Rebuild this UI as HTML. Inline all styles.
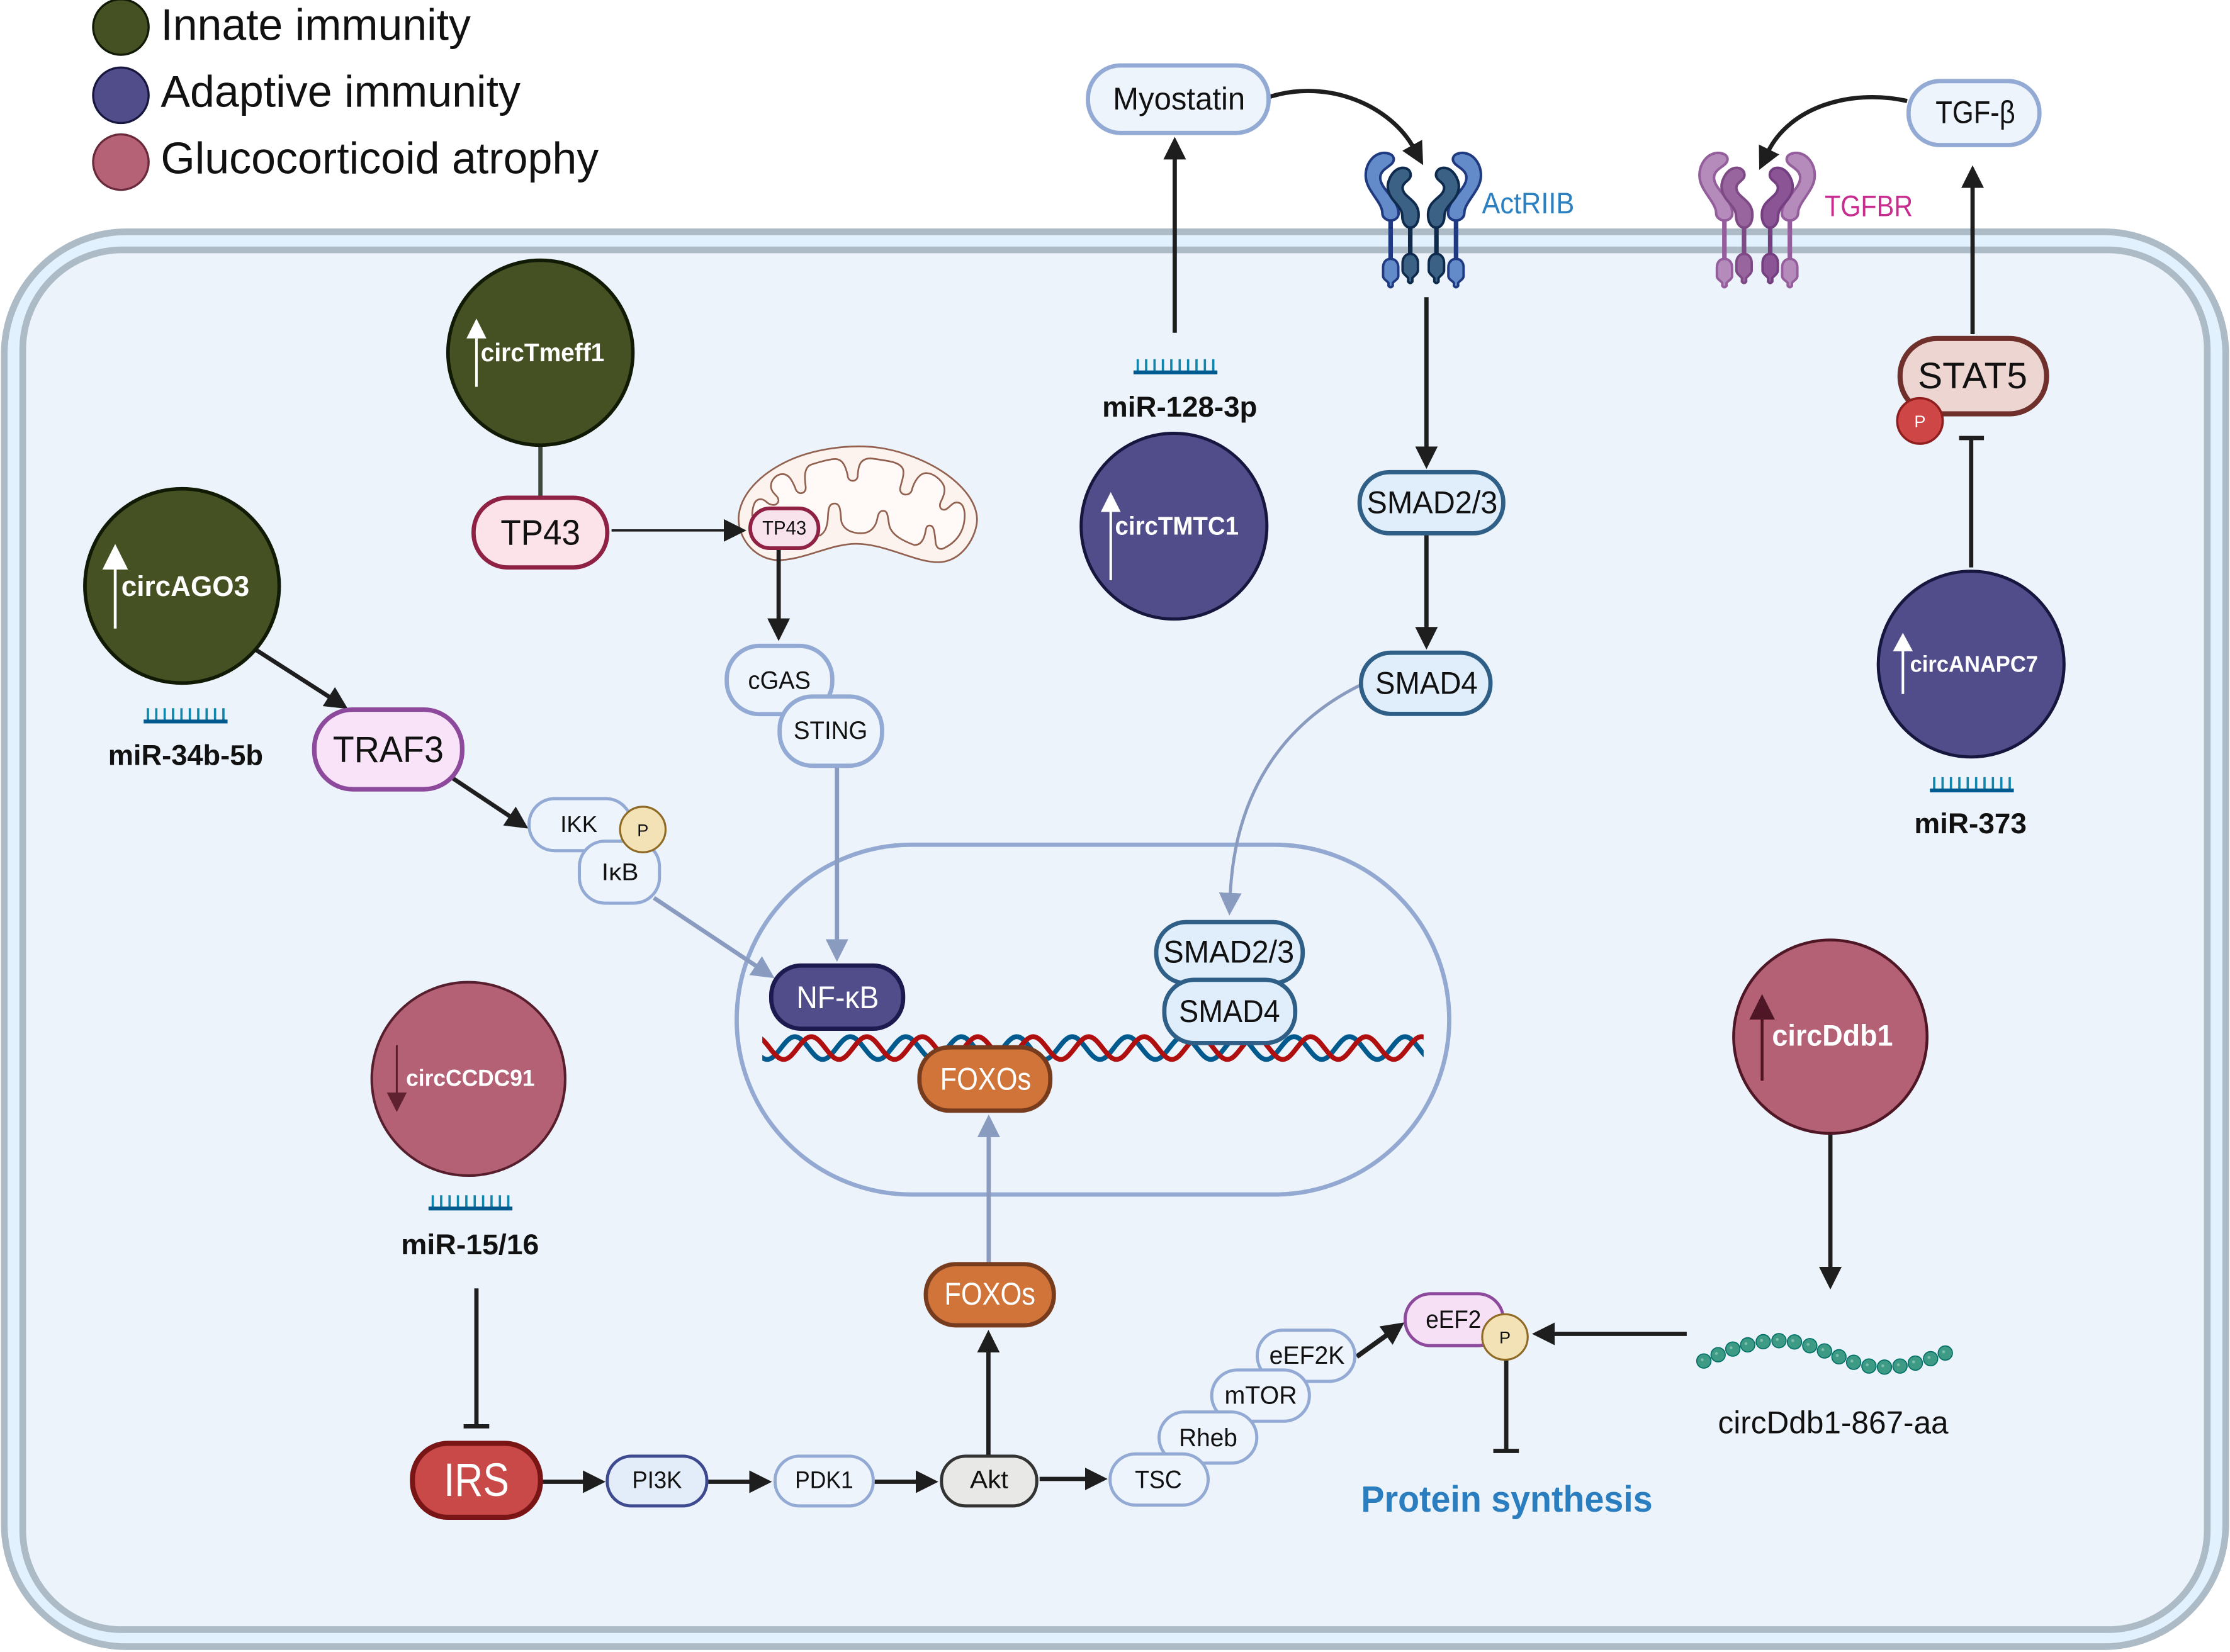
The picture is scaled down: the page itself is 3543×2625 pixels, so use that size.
<!DOCTYPE html>
<html><head><meta charset="utf-8"><title>circRNA pathways</title>
<style>
html,body{margin:0;padding:0;background:#fff}
svg{display:block}
text{font-family:"Liberation Sans",sans-serif;fill:#111;text-anchor:middle}
.s{text-anchor:start}
.b{font-weight:bold}
.w{fill:#fff}
.pill{fill:#edf4fc;stroke:#93aad4;stroke-width:2.2}
.smad{fill:#dfeefa;stroke:#2f5f86;stroke-width:3}
.fox{fill:#d1743a;stroke:#773b1d;stroke-width:3}
.ar{fill:none;stroke:#1e1e1e;stroke-width:3;marker-end:url(#h)}
.ag{fill:none;stroke:#8a9bc0;stroke-width:3;marker-end:url(#g)}
.in{fill:none;stroke:#1e1e1e;stroke-width:3}
</style></head><body>
<svg xmlns="http://www.w3.org/2000/svg" width="3543" height="2625" viewBox="0 0 1568 1161.7">
<defs>
<marker id="h" markerUnits="userSpaceOnUse" markerWidth="17" markerHeight="17" viewBox="0 -8 16 16" refX="2" refY="0" orient="auto"><path d="M0,-7.5L15,0L0,7.5Z" fill="#1e1e1e"/></marker>
<marker id="g" markerUnits="userSpaceOnUse" markerWidth="17" markerHeight="17" viewBox="0 -8 16 16" refX="2" refY="0" orient="auto"><path d="M0,-7.5L15,0L0,7.5Z" fill="#8a9bc0"/></marker>
<clipPath id="dc"><rect x="536" y="720" width="465" height="34"/></clipPath>
<g id="mir">
<path d="M3,0V9M8.9,0V9M14.8,0V9M20.7,0V9M26.6,0V9M32.5,0V9M38.4,0V9M44.3,0V9M50.2,0V9M56.1,0V9" stroke="#0f86ab" stroke-width="1.6" fill="none"/>
<rect x="0" y="8" width="59" height="2.7" fill="#005a8e"/>
</g>
<g id="bead"><circle r="34" fill="#3c9a85" stroke="#006f66" stroke-width="5"/><circle cx="-8" cy="-6" r="7" fill="#7cbcaa"/></g>
<g id="halfR">
<path d="M977.8,153V184" stroke="var(--os)" stroke-width="3.2" fill="none"/>
<path d="M991.6,158V180" stroke="var(--is)" stroke-width="3.2" fill="none"/>
<path d="M973,107.5C965,108 960,116 960.3,124C960.5,134 972,142 972,150C972,153 975,155 977.7,155C981,155 983.4,153 983.4,150C983.4,140 970.5,133 970.5,125C970.5,118 980,117 980,112C980,109 977,107.5 973,107.5Z" fill="var(--of)" stroke="var(--os)" stroke-width="1.8"/>
<path d="M986.5,118C980,118 975.8,126 975.8,131C975.8,141 986,144 986,152C986,156 988,160 991.7,160C995.5,160 997.5,156 997.5,151C997.5,140 986.2,139 986.2,132C986.2,128 991.9,127 991.9,123C991.9,120 989.5,118 986.5,118Z" fill="var(--if)" stroke="var(--is)" stroke-width="1.8"/>
<path d="M977.8,182C974.5,182 972.5,184.5 972.5,188V194C972.5,196.5 975.5,197.5 976.3,199V201Q977.8,203 979.3,201V199C980.2,197.5 983.2,196.5 983.2,194V188C983.2,184.5 981,182 977.8,182Z" fill="var(--of)" stroke="var(--os)" stroke-width="1.7"/>
<path d="M991.6,178.5C988.5,178.5 986.2,181 986.2,185V190C986.2,192.5 989,194 990.1,195.5V198Q991.6,200 993.1,198V195.5C994.2,194 997,192.5 997,190V185C997,181 994.7,178.5 991.6,178.5Z" fill="var(--if)" stroke="var(--is)" stroke-width="1.7"/>
</g>
</defs>

<rect width="1568" height="1161.7" fill="#fff"/>

<!-- Cell membrane -->
<rect x="3" y="163" width="1562" height="995" rx="86" fill="#e1f1fd" stroke="#adbbc6" stroke-width="4.7"/>
<rect x="16" y="175.7" width="1536" height="970.3" rx="70" fill="#ecf3fb" stroke="#adbbc6" stroke-width="4.7"/>

<!-- Legend -->
<circle cx="85" cy="19" r="19.5" fill="#455122" stroke="#111a05" stroke-width="1.5"/>
<circle cx="85" cy="67" r="19.5" fill="#504d8a" stroke="#17163f" stroke-width="1.5"/>
<circle cx="85" cy="114" r="19.5" fill="#b56176" stroke="#6b2a3b" stroke-width="1.5"/>
<text class="s" x="113" y="28" font-size="31" textLength="218" lengthAdjust="spacingAndGlyphs">Innate immunity</text>
<text class="s" x="113" y="75" font-size="31" textLength="253" lengthAdjust="spacingAndGlyphs">Adaptive immunity</text>
<text class="s" x="113" y="122" font-size="31" textLength="308" lengthAdjust="spacingAndGlyphs">Glucocorticoid atrophy</text>

<!-- Receptors -->
<g style="--of:#648bc9;--os:#1f3a80;--if:#3b6184;--is:#0e2a4d"><use href="#halfR"/><use href="#halfR" transform="translate(2001.6,0) scale(-1,1)"/></g>
<g transform="translate(234.7,0)">
<g style="--of:#b48bbb;--os:#945e9c;--if:#98659f;--is:#7e4a85"><use href="#halfR"/></g>
<g style="--of:#b48bbb;--os:#945e9c;--if:#8b5595;--is:#743f80"><use href="#halfR" transform="translate(2001.6,0) scale(-1,1)"/></g>
</g>
<text class="s" x="1042" y="150" font-size="21" style="fill:#2a80c0" textLength="65" lengthAdjust="spacingAndGlyphs">ActRIIB</text>
<text class="s" x="1283" y="152" font-size="21" style="fill:#c72c8f" textLength="62" lengthAdjust="spacingAndGlyphs">TGFBR</text>

<!-- Nucleus -->
<rect x="518" y="594" width="501" height="246" rx="123" fill="none" stroke="#94a9d1" stroke-width="3"/>

<!-- DNA -->
<g clip-path="url(#dc)" fill="none" stroke-width="3.4">
<path stroke="#005a8e" d="M500.4,745c7.2,0 12.3,-16 19.5,-16s12.3,16 19.5,16c7.2,0 12.3,-16 19.5,-16s12.3,16 19.5,16c7.2,0 12.3,-16 19.5,-16s12.3,16 19.5,16c7.2,0 12.3,-16 19.5,-16s12.3,16 19.5,16c7.2,0 12.3,-16 19.5,-16s12.3,16 19.5,16c7.2,0 12.3,-16 19.5,-16s12.3,16 19.5,16c7.2,0 12.3,-16 19.5,-16s12.3,16 19.5,16c7.2,0 12.3,-16 19.5,-16s12.3,16 19.5,16c7.2,0 12.3,-16 19.5,-16s12.3,16 19.5,16c7.2,0 12.3,-16 19.5,-16s12.3,16 19.5,16c7.2,0 12.3,-16 19.5,-16s12.3,16 19.5,16c7.2,0 12.3,-16 19.5,-16s12.3,16 19.5,16c7.2,0 12.3,-16 19.5,-16s12.3,16 19.5,16"/>
<path stroke="#b00f10" d="M512,745c7.2,0 12.3,-16 19.5,-16s12.3,16 19.5,16c7.2,0 12.3,-16 19.5,-16s12.3,16 19.5,16c7.2,0 12.3,-16 19.5,-16s12.3,16 19.5,16c7.2,0 12.3,-16 19.5,-16s12.3,16 19.5,16c7.2,0 12.3,-16 19.5,-16s12.3,16 19.5,16c7.2,0 12.3,-16 19.5,-16s12.3,16 19.5,16c7.2,0 12.3,-16 19.5,-16s12.3,16 19.5,16c7.2,0 12.3,-16 19.5,-16s12.3,16 19.5,16c7.2,0 12.3,-16 19.5,-16s12.3,16 19.5,16c7.2,0 12.3,-16 19.5,-16s12.3,16 19.5,16c7.2,0 12.3,-16 19.5,-16s12.3,16 19.5,16c7.2,0 12.3,-16 19.5,-16s12.3,16 19.5,16c7.2,0 12.3,-16 19.5,-16s12.3,16 19.5,16"/>
</g>

<!-- Mitochondrion -->
<g transform="translate(495.7,292.1) scale(0.1475)" stroke="#91604f" stroke-width="8" stroke-linejoin="round">
<path fill="#fdf3ee" d="M160,490C165,380 260,280 400,215C520,160 660,145 760,148C900,152 1050,210 1150,280C1240,345 1295,420 1297,495C1297,570 1230,700 1110,700C1000,700 860,612 720,612C600,612 470,690 350,690C250,690 160,600 160,490Z"/>
<path fill="#fffaf8" d="M545,575C570,560 580,540 585,500C588,460 585,420 618,420C650,420 645,470 650,505C660,545 700,562 745,562C790,562 815,530 822,490C826,465 835,455 850,455C875,455 870,490 880,530C895,575 950,600 995,617C1030,622 1045,590 1052,550C1055,530 1060,525 1072,525C1095,525 1095,570 1100,610C1105,635 1120,640 1135,635C1190,610 1240,560 1238,470C1235,430 1220,415 1200,415C1175,415 1160,450 1140,450C1120,450 1115,430 1125,410C1140,380 1145,360 1140,340C1130,310 1090,275 1055,275C1020,275 995,320 985,360C975,385 930,385 930,350C935,320 950,290 945,260C935,225 890,218 790,205C740,205 730,240 728,290C725,320 680,320 680,285C670,240 655,208 620,208C590,208 520,230 505,235C470,250 475,300 480,340C485,375 440,385 430,345C415,310 400,280 370,280C340,280 310,310 315,345C320,375 355,385 350,410C340,435 310,430 290,410C265,390 240,400 232,430C225,450 225,475 225,480"/>
</g>

<!-- Connectors -->
<path class="ar" d="M893,68C935,55 978,75 994,104"/>
<path class="ar" d="M1341,71C1300,62 1258,76 1243,107"/>
<path class="ar" d="M826,234V110"/>
<path class="ar" d="M1003,209V316"/>
<path class="ar" d="M1003,376V443"/>
<path class="ar" d="M1387,235V130"/>
<path class="in" d="M1386,399V308M1377.5,308H1395"/>
<path d="M380,313V349" stroke="#3d4a3a" stroke-width="3" fill="none"/>
<path class="ar" style="stroke-width:1.6" d="M430,373H511"/>
<path class="ar" d="M547.5,386V437"/>
<path class="ag" d="M588.5,538V662.6"/>
<path class="ag" style="stroke-width:2.2" d="M956,482C900,510 868,560 865,630"/>
<path class="ar" d="M180,457L233,491"/>
<path class="ar" d="M318,547L360,575"/>
<path class="ag" d="M459.8,631.4L533.1,680.2"/>
<path class="ag" d="M695.2,888V797.5"/>
<path class="ar" d="M695,1023V949"/>
<path class="in" d="M335,906V1003M326,1003H344"/>
<path class="ar" d="M381,1042H412"/>
<path class="ar" d="M498,1042H529"/>
<path class="ar" d="M615,1042H646"/>
<path class="ar" d="M731,1040H765"/>
<path class="ar" style="stroke-width:3.4" d="M954,954L976.3,938"/>
<path class="in" d="M1059.1,956V1020M1050,1020.3H1068"/>
<path class="ar" d="M1186,938H1091"/>
<path class="ar" d="M1287,797V893"/>

<!-- Top ligands -->
<rect x="765" y="46" width="127" height="47.5" rx="23" class="pill" style="stroke-width:3"/>
<text x="829" y="77" font-size="22" textLength="93" lengthAdjust="spacingAndGlyphs">Myostatin</text>
<rect x="1342" y="57" width="92" height="45" rx="22" class="pill" style="stroke-width:3"/>
<text x="1389" y="86.5" font-size="22" textLength="56" lengthAdjust="spacingAndGlyphs">TGF-β</text>

<!-- SMAD cytoplasm -->
<rect x="956" y="332" width="101" height="43" rx="21" class="smad"/>
<text x="1007" y="361" font-size="22" textLength="92" lengthAdjust="spacingAndGlyphs">SMAD2/3</text>
<rect x="957" y="459" width="91" height="43" rx="21" class="smad"/>
<text x="1003" y="488" font-size="22" textLength="72" lengthAdjust="spacingAndGlyphs">SMAD4</text>

<!-- Nucleus nodes -->
<rect x="813" y="648.4" width="103" height="43" rx="21" class="smad"/>
<text x="864" y="677" font-size="22" textLength="92" lengthAdjust="spacingAndGlyphs">SMAD2/3</text>
<rect x="818.7" y="689" width="92" height="44.5" rx="21" class="smad"/>
<text x="864.5" y="718.8" font-size="22" textLength="71" lengthAdjust="spacingAndGlyphs">SMAD4</text>
<rect x="542.3" y="679" width="92.7" height="44.4" rx="21" fill="#504d8a" stroke="#1d1a4f" stroke-width="3"/>
<text class="w" x="589" y="709" font-size="22" textLength="58" lengthAdjust="spacingAndGlyphs">NF-κB</text>
<rect x="646.5" y="736.5" width="92" height="44.5" rx="21" class="fox"/>
<text class="w" x="693" y="766.4" font-size="22" textLength="64" lengthAdjust="spacingAndGlyphs">FOXOs</text>
<rect x="651" y="889" width="90" height="43" rx="21" class="fox"/>
<text class="w" x="696" y="917.5" font-size="22" textLength="64" lengthAdjust="spacingAndGlyphs">FOXOs</text>

<!-- TP43 -->
<rect x="333" y="350" width="94" height="49" rx="24" fill="#fce3ea" stroke="#8f2145" stroke-width="3"/>
<text x="380" y="383" font-size="25" textLength="56" lengthAdjust="spacingAndGlyphs">TP43</text>
<rect x="527.5" y="357.5" width="48" height="28" rx="14" fill="#f8e2ec" stroke="#8f2145" stroke-width="2.6"/>
<text x="551.5" y="376" font-size="14" textLength="31" lengthAdjust="spacingAndGlyphs">TP43</text>

<!-- cGAS STING -->
<rect x="511" y="454.2" width="74.2" height="48" rx="23" class="pill" style="stroke-width:3"/>
<text x="548" y="484.3" font-size="17.5" textLength="44" lengthAdjust="spacingAndGlyphs">cGAS</text>
<rect x="548.2" y="489.8" width="72" height="48.7" rx="23" class="pill" style="stroke-width:3"/>
<text x="584" y="519.6" font-size="17.5" textLength="52" lengthAdjust="spacingAndGlyphs">STING</text>

<!-- TRAF3 IKK -->
<rect x="221" y="499" width="104" height="56" rx="27" fill="#f8e3f8" stroke="#8d4a9c" stroke-width="3.2"/>
<text x="273" y="536" font-size="26" textLength="78" lengthAdjust="spacingAndGlyphs">TRAF3</text>
<rect x="372" y="561.6" width="72" height="36.6" rx="18" class="pill"/>
<text x="407" y="585" font-size="16" textLength="26" lengthAdjust="spacingAndGlyphs">IKK</text>
<rect x="407.4" y="591.5" width="56.3" height="43.6" rx="18" class="pill"/>
<text x="436" y="619" font-size="17" textLength="26" lengthAdjust="spacingAndGlyphs">IκB</text>
<circle cx="452" cy="583.3" r="16" fill="#f3e2b5" stroke="#8e6a24" stroke-width="1.4"/>
<text x="452" y="588" font-size="12">P</text>

<!-- circ circles -->
<circle cx="380" cy="248" r="65" fill="#455122" stroke="#111a05" stroke-width="2.5"/>
<path d="M335,272V238" stroke="#fff" stroke-width="1.8"/><path d="M335,224L342,238H328Z" fill="#fff"/>
<text class="w b s" x="338" y="254" font-size="18" textLength="87" lengthAdjust="spacingAndGlyphs">circTmeff1</text>

<circle cx="128" cy="412" r="68.3" fill="#455122" stroke="#111a05" stroke-width="2.5"/>
<path d="M81,442V400" stroke="#fff" stroke-width="2"/><path d="M81,382.5L90,400.5H72Z" fill="#fff"/>
<text class="w b s" x="85.3" y="419" font-size="20" textLength="90" lengthAdjust="spacingAndGlyphs">circAGO3</text>

<circle cx="825.5" cy="370" r="65.3" fill="#504d8a" stroke="#17163f" stroke-width="2.2"/>
<path d="M781,408V360" stroke="#fff" stroke-width="1.8"/><path d="M781,346L788,360H774Z" fill="#fff"/>
<text class="w b s" x="784" y="376" font-size="18" textLength="87" lengthAdjust="spacingAndGlyphs">circTMTC1</text>

<circle cx="1386" cy="467" r="65.3" fill="#504d8a" stroke="#17163f" stroke-width="2.2"/>
<path d="M1338,488V458" stroke="#fff" stroke-width="1.8"/><path d="M1338,445L1345,458H1331Z" fill="#fff"/>
<text class="w b s" x="1343" y="472.5" font-size="16" textLength="90" lengthAdjust="spacingAndGlyphs">circANAPC7</text>

<circle cx="329.4" cy="758.7" r="68" fill="#b46176" stroke="#571e2e" stroke-width="1.8"/>
<path d="M279,735V769" stroke="#571e2e" stroke-width="1.3"/><path d="M279,782L272,768.3H286Z" fill="#5f2030"/>
<text class="w b s" x="285.5" y="763.7" font-size="16.5" textLength="90.5" lengthAdjust="spacingAndGlyphs">circCCDC91</text>

<circle cx="1287" cy="729" r="68" fill="#b46176" stroke="#4f1625" stroke-width="2"/>
<path d="M1239,760V716" stroke="#4f1625" stroke-width="2"/><path d="M1239,699L1248,717H1230Z" fill="#4f1625"/>
<text class="w b s" x="1246" y="735.3" font-size="21" textLength="85" lengthAdjust="spacingAndGlyphs">circDdb1</text>

<!-- miRNA -->
<use href="#mir" x="101" y="498"/>
<text class="b" x="130.5" y="538" font-size="20" textLength="109" lengthAdjust="spacingAndGlyphs">miR-34b-5b</text>
<use href="#mir" x="797" y="252.5"/>
<text class="b" x="829.5" y="293" font-size="20" textLength="109" lengthAdjust="spacingAndGlyphs">miR-128-3p</text>
<use href="#mir" x="1357" y="546.5"/>
<text class="b" x="1385.5" y="586" font-size="20" textLength="79" lengthAdjust="spacingAndGlyphs">miR-373</text>
<use href="#mir" x="301.3" y="840.5"/>
<text class="b" x="330.5" y="882" font-size="20" textLength="97" lengthAdjust="spacingAndGlyphs">miR-15/16</text>

<!-- STAT5 -->
<rect x="1336" y="238" width="103" height="53" rx="26" fill="#edd5d1" stroke="#6f2f2a" stroke-width="3.6"/>
<text x="1387" y="273" font-size="26" textLength="77" lengthAdjust="spacingAndGlyphs">STAT5</text>
<circle cx="1350" cy="296" r="16" fill="#cf4646" stroke="#8f1e1e" stroke-width="1.6"/>
<text class="w" x="1350" y="300.5" font-size="12">P</text>

<!-- Bottom pathway -->
<rect x="290" y="1015" width="90" height="52" rx="25" fill="#c94848" stroke="#7a1516" stroke-width="3.6"/>
<text class="w" x="335" y="1052" font-size="33" textLength="46" lengthAdjust="spacingAndGlyphs">IRS</text>
<rect x="427" y="1024" width="70" height="35" rx="17" fill="#e2edf9" stroke="#3e4a8f" stroke-width="2.2"/>
<text x="462" y="1046.5" font-size="17" textLength="35" lengthAdjust="spacingAndGlyphs">PI3K</text>
<rect x="545" y="1024" width="69" height="35" rx="17" class="pill"/>
<text x="579.5" y="1046.5" font-size="17" textLength="41" lengthAdjust="spacingAndGlyphs">PDK1</text>
<rect x="662" y="1024" width="67" height="35" rx="17" fill="#e8e8e6" stroke="#333" stroke-width="2.2"/>
<text x="695.5" y="1046.5" font-size="17.5" textLength="27" lengthAdjust="spacingAndGlyphs">Akt</text>
<rect x="884" y="935.4" width="68.7" height="36" rx="18" class="pill"/>
<text x="919" y="959" font-size="17.5" textLength="53" lengthAdjust="spacingAndGlyphs">eEF2K</text>
<rect x="852" y="963.4" width="68.7" height="36" rx="18" class="pill"/>
<text x="886.5" y="987.2" font-size="17.5" textLength="51" lengthAdjust="spacingAndGlyphs">mTOR</text>
<rect x="815" y="992.9" width="68.7" height="36" rx="18" class="pill"/>
<text x="849.5" y="1016.9" font-size="17.5" textLength="41" lengthAdjust="spacingAndGlyphs">Rheb</text>
<rect x="780.5" y="1022.4" width="69" height="36" rx="18" class="pill"/>
<text x="814.5" y="1046.4" font-size="17.5" textLength="33" lengthAdjust="spacingAndGlyphs">TSC</text>
<rect x="988" y="909.8" width="69" height="36.5" rx="18" fill="#f5e0f6" stroke="#8d4a9c" stroke-width="2.2"/>
<text x="1022" y="933.8" font-size="17.5" textLength="39" lengthAdjust="spacingAndGlyphs">eEF2</text>
<circle cx="1058.2" cy="940.2" r="16" fill="#f3e2b5" stroke="#8e6a24" stroke-width="1.4"/>
<text x="1058.2" y="944.7" font-size="12">P</text>
<text class="b" x="1059.5" y="1063" font-size="26" style="fill:#2a7dbf" textLength="205" lengthAdjust="spacingAndGlyphs">Protein synthesis</text>

<!-- Beads -->
<g transform="translate(1168.4,920.5) scale(0.1475)">
<use href="#bead" x="201" y="248"/><use href="#bead" x="269" y="218"/><use href="#bead" x="339" y="191"/><use href="#bead" x="410" y="171"/><use href="#bead" x="484" y="156"/><use href="#bead" x="559" y="151"/><use href="#bead" x="633" y="157"/><use href="#bead" x="706" y="175"/><use href="#bead" x="776" y="200"/><use href="#bead" x="845" y="228"/><use href="#bead" x="915" y="254"/><use href="#bead" x="988" y="272"/><use href="#bead" x="1062" y="277"/><use href="#bead" x="1136" y="272"/><use href="#bead" x="1209" y="258"/><use href="#bead" x="1282" y="237"/><use href="#bead" x="1352" y="210"/>
</g>
<text x="1289" y="1008" font-size="22" textLength="162" lengthAdjust="spacingAndGlyphs">circDdb1-867-aa</text>
</svg>
</body></html>
